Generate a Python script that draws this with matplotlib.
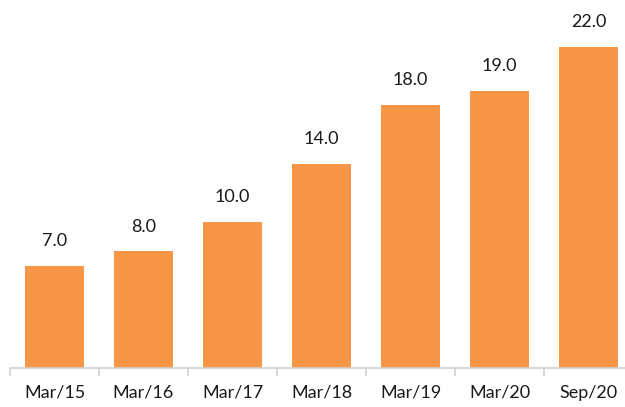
import matplotlib.pyplot as plt
import numpy as np

periods = ['Mar/15', 'Mar/16', 'Mar/17', 'Mar/18', 'Mar/19', 'Mar/20', 'Sep/20']
values = [7.0, 8.0, 10.0, 14.0, 18.0, 19.0, 22.0]

plt.rcParams['font.family'] = ['Lato', 'DejaVu Sans']

fig = plt.figure(figsize=(6.25, 4.07), dpi=100)
ax = fig.add_axes([10/625, 39/407, 623/625, 368/407])

x = np.arange(len(values))
bars = ax.bar(x, values, width=0.67, color='#F79646')
for xi, v in zip(x, values):
    ax.annotate(f'{v:.1f}', (xi, v), xytext=(0, 12), textcoords='offset points',
                ha='center', va='bottom', fontsize=13, color='#1a1a1a')

ax.set_xlim(-0.5, len(values) - 0.5)
ax.set_ylim(0, 25.2)
ax.set_yticks([])
for s in ['top', 'right', 'left']:
    ax.spines[s].set_visible(False)
ax.spines['bottom'].set_color('#d0d0d0')
ax.spines['bottom'].set_linewidth(1.2)

ax.set_xticks(x - 0.5, minor=False)
ax.set_xticklabels([])
ax.tick_params(axis='x', which='major', length=6, color='#d0d0d0', width=1.2)
ax.set_xticks(x, minor=True)
ax.set_xticklabels(periods, minor=True, fontsize=13, color='#1a1a1a')
ax.tick_params(axis='x', which='minor', length=0, pad=12)

fig.savefig('out.png', dpi=100)
